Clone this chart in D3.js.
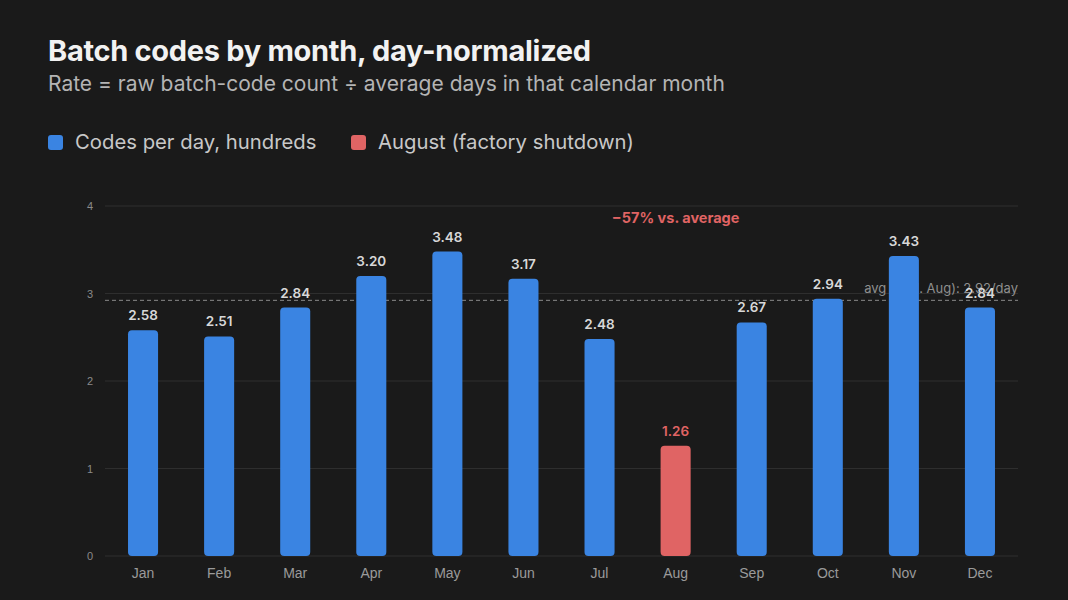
<!DOCTYPE html>
<html>
<head>
<meta charset="utf-8">
<script src="https://cdn.jsdelivr.net/npm/d3@7/dist/d3.min.js"></script>
<style>
  html, body { margin: 0; padding: 0; background: #1a1a1a; }
  svg { display: block; font-family: Inter, "Noto Sans", sans-serif; }
</style>
</head>
<body>
<svg id="chart"></svg>
<script>
var months = ["Jan", "Feb", "Mar", "Apr", "May", "Jun", "Jul", "Aug", "Sep", "Oct", "Nov", "Dec"];
var codesPerDay = [2.58, 2.51, 2.84, 3.20, 3.48, 3.17, 2.48, 1.26, 2.67, 2.94, 3.43, 2.84];
var yTicks = [0, 1, 2, 3, 4];
var shutdownMonth = "Aug";

var w = 1068;
var h = 600;
var plotLeft = 105, plotRight = 1018, plotTop = 206, plotBottom = 556;
var blue = "#3a84e2";
var red = "#e06464";

var svg = d3.select("#chart")
            .attr("width", w)
            .attr("height", h);

svg.append("rect").attr("width", w).attr("height", h).attr("fill", "#1a1a1a");

// title + subtitle
svg.append("text")
   .attr("x", 48).attr("y", 61)
   .attr("fill", "#f2f2f2")
   .attr("font-size", 29).attr("font-weight", 700)
   .attr("letter-spacing", "-0.3")
   .text("Batch codes by month, day-normalized");
svg.append("text")
   .attr("x", 48).attr("y", 91)
   .attr("fill", "#b4b4b4")
   .attr("font-size", 21)
   .text("Rate = raw batch-code count ÷ average days in that calendar month");

// legend
var legend = [
  {label: "Codes per day, hundreds", color: blue, x: 48},
  {label: "August (factory shutdown)", color: red, x: 351}
];
var lg = svg.selectAll("g.legend").data(legend).enter().append("g")
  .attr("class", "legend")
  .attr("transform", function(d){ return "translate(" + d.x + ",135)"; });
lg.append("rect").attr("width", 15).attr("height", 15).attr("rx", 3)
  .attr("fill", function(d){ return d.color; });
lg.append("text").attr("x", 27).attr("y", 14)
  .attr("fill", "#c8c8c8").attr("font-size", 20.3)
  .text(function(d){ return d.label; });

var x = d3.scaleBand()
  .domain(months)
  .range([plotLeft, plotRight])
  .paddingInner(0.605)
  .paddingOuter(0.3025);

var y = d3.scaleLinear()
  .domain([0, 4])
  .range([plotBottom, plotTop]);

// grid
svg.append("g").selectAll("line").data(yTicks).enter().append("line")
  .attr("x1", plotLeft).attr("x2", plotRight)
  .attr("y1", function(d){ return y(d); })
  .attr("y2", function(d){ return y(d); })
  .attr("stroke", "#2e2e2e").attr("stroke-width", 1);

var yAxis = d3.axisLeft(y).tickValues(yTicks).tickFormat(d3.format("d")).tickSize(0).tickPadding(12);
var gy = svg.append("g").attr("transform", "translate(" + plotLeft + ",0)").call(yAxis);
gy.select(".domain").remove();
gy.selectAll("text").attr("fill", "#8a8a8a").attr("font-size", 11);

var xAxis = d3.axisBottom(x).tickSize(0).tickPadding(12);
var gx = svg.append("g").attr("transform", "translate(0," + plotBottom + ")").call(xAxis);
gx.select(".domain").remove();
gx.selectAll("text").attr("fill", "#9a9a9a").attr("font-size", 14);

// average excluding August
var others = codesPerDay.filter(function(d, i){ return months[i] !== shutdownMonth; });
var avg = d3.mean(others);
var augVal = codesPerDay[months.indexOf(shutdownMonth)];
var pct = Math.round((augVal / avg - 1) * 100);

svg.append("line")
  .attr("x1", plotLeft).attr("x2", plotRight)
  .attr("y1", y(avg)).attr("y2", y(avg))
  .attr("stroke", "#8a8a8a").attr("stroke-width", 1)
  .attr("stroke-dasharray", "4,3");
svg.append("text")
  .attr("x", plotRight).attr("y", y(avg) - 7)
  .attr("text-anchor", "end")
  .attr("fill", "#8f8f8f").attr("font-size", 13)
  .text("avg (excl. Aug): " + avg.toFixed(2) + "/day");

// bars
var data = months.map(function(m, i){ return {month: m, value: codesPerDay[i]}; });
svg.append("g").selectAll("rect").data(data).enter().append("rect")
  .attr("x", function(d){ return x(d.month); })
  .attr("y", function(d){ return y(d.value); })
  .attr("width", x.bandwidth())
  .attr("height", function(d){ return y(0) - y(d.value); })
  .attr("rx", 4)
  .attr("fill", function(d){ return d.month === shutdownMonth ? red : blue; });

// value labels
svg.append("g").selectAll("text").data(data).enter().append("text")
  .attr("x", function(d){ return x(d.month) + x.bandwidth() / 2; })
  .attr("y", function(d){ return y(d.value) - 10; })
  .attr("text-anchor", "middle")
  .attr("font-size", 13.5).attr("font-weight", 600)
  .attr("fill", function(d){ return d.month === shutdownMonth ? red : "#d8d8d8"; })
  .text(function(d){ return d.value.toFixed(2); });

// annotation
svg.append("text")
  .attr("x", x(shutdownMonth) + x.bandwidth() / 2)
  .attr("y", 223)
  .attr("text-anchor", "middle")
  .attr("font-size", 14.5).attr("font-weight", 700)
  .attr("fill", red)
  .text("\u2212" + Math.abs(pct) + "% vs. average");
</script>
</body>
</html>
